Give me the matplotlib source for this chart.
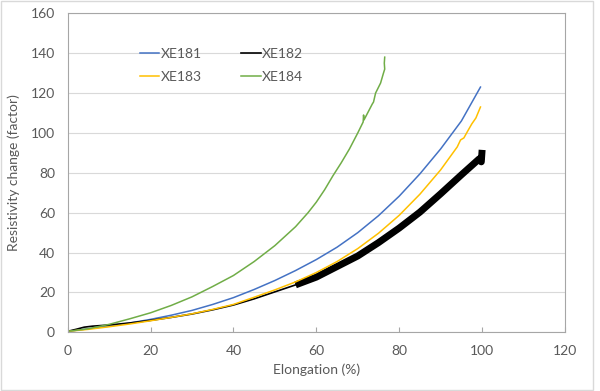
import numpy as np
import matplotlib
matplotlib.use("Agg")
import matplotlib.pyplot as plt
from matplotlib.patches import Rectangle

# values (elongation %, resistivity factor)
xe181_x = [0, 5, 10, 15, 20, 25, 30, 35, 40, 45, 50, 55, 60, 65, 70, 75, 80, 85, 90, 95, 99.6]
xe181_y = [0.5, 1.8, 3.1, 4.7, 6.5, 8.6, 11, 14, 17.4, 21.5, 26, 31, 36.5, 42.7, 50, 58.5, 68.3, 79.5, 92, 106, 123]

xe182_x = [0, 2, 4, 6, 8, 10, 15, 20, 25, 30, 35, 40, 45, 50, 55, 60, 65, 70, 75, 80, 85, 90, 95, 99.3, 99.8, 100]
xe182_y = [0.5, 1.5, 2.6, 3.1, 3.4, 3.7, 4.7, 6, 7.5, 9.2, 11.3, 13.7, 16.8, 20.3, 23.8, 27.7, 33, 38.3, 45, 52.3, 60.3, 69.5, 79, 87, 85.5, 91.5]

xe183_x = [0, 5, 10, 15, 20, 25, 30, 35, 40, 45, 50, 55, 60, 65, 70, 75, 80, 85, 90, 94, 94.8, 95.6, 96.4, 97.5, 98.5, 99.6]
xe183_y = [0.5, 1.5, 2.8, 4.2, 5.8, 7.5, 9.3, 11.5, 14, 17.6, 21.3, 25.3, 30, 35.5, 42, 49.7, 58.7, 69.3, 81.5, 93, 96.5, 97.5, 100.5, 104.5, 107.5, 113]

xe184_x = [0, 5, 10, 15, 20, 25, 30, 35, 40, 45, 50, 55, 58, 60, 62, 64, 66, 68, 70, 71.3, 71.4, 71.5, 72.5, 73.5, 73.8, 74.3, 75.5, 76.2, 76.5, 76.4, 76.5]
xe184_y = [0.5, 1.8, 4, 6.8, 9.8, 13.5, 17.8, 23, 28.5, 35.5, 43.5, 53, 60, 65.3, 71.5, 78.5, 85, 92, 100, 105.5, 109, 106.5, 110.5, 114.5, 115.5, 120, 125, 130, 132, 135, 138]

x_ticks = [0, 20, 40, 60, 80, 100, 120]
y_ticks = [0, 20, 40, 60, 80, 100, 120, 140, 160]

plt.rcParams['font.family'] = ['Lato', 'DejaVu Sans']

fig = plt.figure(figsize=(6, 3.91), dpi=100)
ax = fig.add_axes([0.1127, 0.150, 0.8290, 0.8160])

l1, = ax.plot(xe181_x, xe181_y, color='#4472C4', lw=1.1, label='XE181')

bx = np.array(xe182_x)
by = np.array(xe182_y)
l2, = ax.plot(bx[bx <= 55], by[bx <= 55], color='black', lw=1.2, label='XE182')
ax.plot(bx[bx >= 55], by[bx >= 55], color='black', lw=5, solid_capstyle='butt')

l3, = ax.plot(xe183_x, xe183_y, color='#FFC000', lw=1.1, label='XE183')
l4, = ax.plot(xe184_x, xe184_y, color='#70AD47', lw=1.1, label='XE184')

ax.set_xlim(0, 120)
ax.set_ylim(0, 160)
ax.set_xticks(x_ticks)
ax.set_yticks(y_ticks)

ax.grid(axis='y', color='#D9D9D9', lw=0.8)
ax.set_axisbelow(True)
for s in ax.spines.values():
    s.set_color('#A6A6A6')
    s.set_linewidth(0.8)

ax.tick_params(axis='x', direction='in', length=3.5, color='#A6A6A6', pad=9,
               labelsize=10, labelcolor='#595959')
ax.tick_params(axis='y', length=0, pad=9, labelsize=10, labelcolor='#595959')

ax.set_xlabel('Elongation (%)', fontsize=10, color='#595959', labelpad=5)
ax.set_ylabel('Resistivity change (factor)', fontsize=10, color='#595959', labelpad=8)

# legend fills column-wise, so order gives rows XE181/XE182 and XE183/XE184
ax.legend(handles=[l1, l3, l2, l4], ncol=2, loc='upper left',
          bbox_to_anchor=(0.12, 0.93), frameon=False, fontsize=10,
          handlelength=1.4, handletextpad=0.1, columnspacing=2.85,
          labelspacing=0.75, labelcolor='#595959')

fig.patches.append(Rectangle((0.5 / 600, 1.5 / 391), 592 / 600, 389 / 391,
                             transform=fig.transFigure, fill=False,
                             edgecolor='#D9D9D9', lw=1))

fig.savefig('out.png', dpi=100)
